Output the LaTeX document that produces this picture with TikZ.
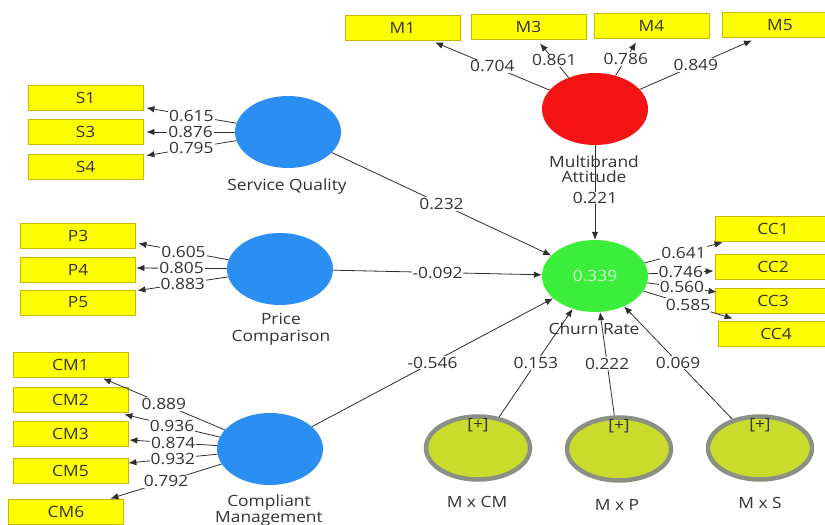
\documentclass[tikz,border=0pt]{standalone}
\usepackage{fontspec}
\setmainfont{Open Sans}[FakeStretch=1.12]
\usetikzlibrary{shapes.geometric,arrows.meta}

\definecolor{indfill}{HTML}{FFFF00}
\definecolor{inddraw}{HTML}{C8B800}
\definecolor{lvblue}{HTML}{2A8EF2}
\definecolor{lvred}{HTML}{F41212}
\definecolor{lvgreen}{HTML}{3CEE3C}
\definecolor{mixfill}{HTML}{C9DC2C}
\definecolor{mixdraw}{HTML}{8A9184}
\definecolor{txt}{HTML}{333333}
\definecolor{wire}{HTML}{2E2E2E}

\begin{document}
\begin{tikzpicture}[x=1pt,y=1pt,
  lbl/.style={font=\fontsize{15.5}{18}\selectfont, text=txt},
  ind/.style={lbl, draw=inddraw, fill=indfill, line width=0.8pt,
    minimum width=115pt, minimum height=25pt, inner sep=0pt},
  lv/.style={ellipse, minimum width=106pt, minimum height=72pt, inner sep=0pt},
  mix/.style={ellipse, fill=mixfill, draw=mixdraw, line width=4.5pt,
    minimum width=104pt, minimum height=63pt, inner sep=0pt},
  arr/.style={draw=wire, line width=0.8pt, -{Latex[length=8pt,width=6.5pt]}},
  coef/.style={lbl, fill=white, inner sep=1pt},
]
\useasboundingbox (0,0) rectangle (825,525);

% indicator boxes
\node[ind] (S1) at (85.5,427) {S1};
\node[ind] (S3) at (85.5,393) {S3};
\node[ind] (S4) at (85.5,358.5) {S4};
\node[ind] (P3) at (78,289.5) {P3};
\node[ind] (P4) at (78,255.5) {P4};
\node[ind] (P5) at (78,222.5) {P5};
\node[ind] (CM1) at (70.5,160.5) {CM1};
\node[ind] (CM2) at (70.5,125.5) {CM2};
\node[ind] (CM3) at (70.5,91.5) {CM3};
\node[ind] (CM5) at (70.5,54.5) {CM5};
\node[ind] (CM6) at (66,13) {CM6};
\node[ind] (M1) at (402.5,497.5) {M1};
\node[ind] (M3) at (528.5,498.5) {M3};
\node[ind] (M4) at (651.5,499.5) {M4};
\node[ind] (M5) at (780,500) {M5};
\node[ind] (CC1) at (773,296.5) {CC1};
\node[ind] (CC2) at (773,258) {CC2};
\node[ind] (CC3) at (773,224.5) {CC3};
\node[ind] (CC4) at (776,191) {CC4};

% latent variables
\node[lv, fill=lvblue] (SQ) at (288,393) {};
\node[lv, fill=lvblue] (PC) at (280,256) {};
\node[lv, fill=lvblue] (CMg) at (270,76) {};
\node[lv, fill=lvred] (MA) at (595,416) {};
\node[lv, fill=lvgreen, lbl, text=white!75!lvgreen] (CR) at (595,249) {0.339};

% interaction terms
\node[mix] (MxCM) at (478,77) {};
\node[mix] (MxP) at (619,76) {};
\node[mix] (MxS) at (760,77) {};
\node[lbl] (MxCMplus) at (478,100) {[+]};
\node[lbl] (MxPplus) at (619,99) {[+]};
\node[lbl] (MxSplus) at (760,100) {[+]};

% construct names
\node[lbl] (SQname) at (287,339) {Service Quality};
\node[lbl, align=center] (PCname) at (281,196) {Price\\[-1.5pt]Comparison};
\node[lbl, align=center] (CMname) at (269,14.5) {Compliant\\[-1.5pt]Management};
\node[lbl, align=center] (MAname) at (594,356) {Multibrand\\[-3pt]Attitude};
\node[lbl] (CRname) at (594,196) {Churn Rate};
\node[lbl] (MxCMname) at (477,23) {M x CM};
\node[lbl] (MxPname) at (617,20) {M x P};
\node[lbl] (MxSname) at (760,22) {M x S};

% outer loadings: Service Quality
\draw[arr] (SQ) -- ([xshift=3pt,yshift=3pt]S1.south east) node[coef,midway] {0.615};
\draw[arr] (SQ) -- ([xshift=3pt]S3.east) node[coef,midway] {0.876};
\draw[arr] (SQ) -- ([xshift=3pt,yshift=-2pt]S4.north east) node[coef,midway] {0.795};

% outer loadings: Price Comparison
\draw[arr] (PC) -- ([xshift=2.5pt,yshift=5pt]P3.south east) node[coef,midway] {0.605};
\draw[arr] (PC) -- ([xshift=0.5pt,yshift=1.5pt]P4.east) node[coef,midway] {0.805};
\draw[arr] (PC) -- ([xshift=1.5pt,yshift=-1pt]P5.north east) node[coef,midway] {0.883};

% outer loadings: Compliant Management
\draw[arr] (CMg) -- ([xshift=32.5pt,yshift=-1pt]CM1.south) node[coef,midway] {0.889};
\draw[arr] (CMg) -- ([xshift=-4pt,yshift=-2pt]CM2.south east) node[coef,midway] {0.936};
\draw[arr] (CMg) -- ([xshift=1pt,yshift=-6.5pt]CM3.east) node[coef,midway] {0.874};
\draw[arr] (CMg) -- ([yshift=7.5pt]CM5.east) node[coef,midway] {0.932};
\draw[arr] (CMg) -- ([xshift=-13.5pt,yshift=0.5pt]CM6.north east) node[coef,midway] {0.792};

% outer loadings: Multibrand Attitude
\draw[arr] (MA) -- ([xshift=32.5pt,yshift=-2pt]M1.south) node[coef,midway] {0.704};
\draw[arr] (MA) -- ([xshift=11.5pt,yshift=-4pt]M3.south) node[coef,midway] {0.861};
\draw[arr] (MA) -- ([xshift=-15.5pt,yshift=-4pt]M4.south) node[coef,midway] {0.786};
\draw[arr] (MA) -- ([xshift=-28pt,yshift=-2.5pt]M5.south) node[coef,midway] {0.849};

% outer loadings: Churn Rate
\draw[arr] (CR) -- ([xshift=7.5pt,yshift=-1pt]CC1.south west) node[coef,midway] {0.641};
\draw[arr] (CR) -- ([xshift=-1.5pt,yshift=-4pt]CC2.west) node[coef,midway] {0.746};
\draw[arr] (CR) -- ([xshift=1.5pt,yshift=8.5pt]CC3.west) node[coef,midway] {0.560};
\draw[arr] (CR) -- ([xshift=14.5pt,yshift=2.5pt]CC4.north west) node[coef,midway] {0.585};

% structural paths
\draw[arr] (SQ) -- (CR) node[coef,midway] {0.232};
\draw[arr] (PC) -- (CR) node[coef,midway] {-0.092};
\draw[arr] (CMg) -- (CR) node[coef,midway] {-0.546};
\draw[arr] (MA) -- (CR) node[coef,pos=0.56,inner ysep=0pt] {0.221};
\draw[arr] (MxCM) -- (CR) node[coef,midway] {0.153};
\draw[arr] (MxP) -- (CR) node[coef,midway] {0.222};
\draw[arr] (MxS) -- (CR) node[coef,midway] {0.069};
\end{tikzpicture}
\end{document}
